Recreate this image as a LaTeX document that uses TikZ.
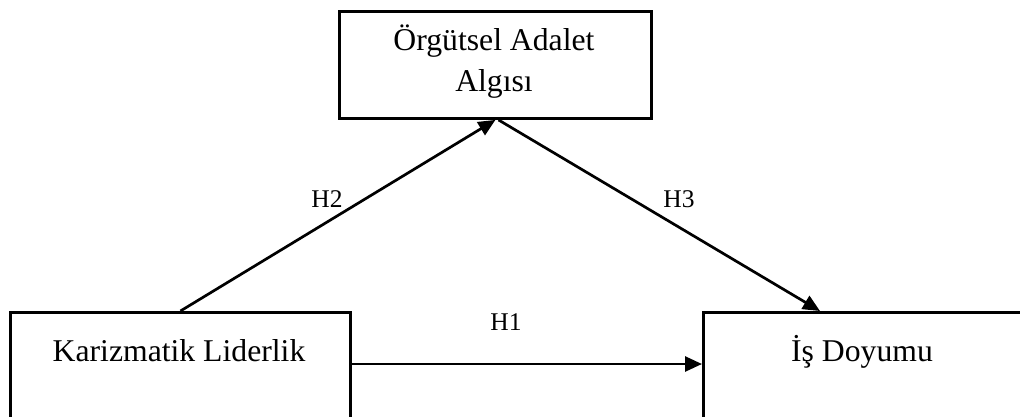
\documentclass[tikz,border=0pt]{standalone}
\usepackage{fontspec}
\setmainfont{Liberation Serif}
\usetikzlibrary{arrows.meta,calc}

\begin{document}
\begin{tikzpicture}[x=1pt,y=-1pt,
  box/.style={draw,line width=2.9pt,inner sep=0pt,anchor=north west},
  boxtext/.style={font=\fontsize{31.7}{40.5}\selectfont,inner sep=0pt,anchor=base,align=center},
  hyp/.style={font=\fontsize{25.5}{30}\selectfont,inner sep=0pt,anchor=base},
  arr/.style={line width=2.7pt,-{Triangle[length=17pt,width=15pt]}}]
  \useasboundingbox (0,0) rectangle (1020,416);
  \clip (0,0) rectangle (1020,416);

  % the three constructs
  \node[box,minimum width=312pt,minimum height=107pt] (oa) at (338,10) {};
  \node[box,minimum width=340pt,minimum height=130pt] (kl) at (9,311) {};
  \node[box,minimum width=322pt,minimum height=130pt] (ij) at (702,311) {};

  % the base anchor of a two-line label sits on its last line
  \node[boxtext] (oat) at (494,91) {Örgütsel Adalet\\Algısı};
  \node[boxtext] (klt) at (179,361) {Karizmatik Liderlik};
  \node[boxtext] (ijt) at (862,361) {İş Doyumu};

  % hypothesised paths
  \coordinate (h1y) at (0,364);
  \coordinate (h3end) at ($(ij.north west)+(118,0)$);
  \coordinate (h3start) at ($(oa.south)+(3,0)$);
  \draw[arr] (kl.east |- h1y) -- (ij.west |- h1y);
  \draw[arr] (kl.north) -- (oa.south);
  \draw[arr] (h3start) -- (h3end);

  \node[hyp] (h1) at (506,330) {H1};
  \node[hyp] (h2) at (327,207) {H2};
  \node[hyp] (h3) at (679,207) {H3};
\end{tikzpicture}
\end{document}
